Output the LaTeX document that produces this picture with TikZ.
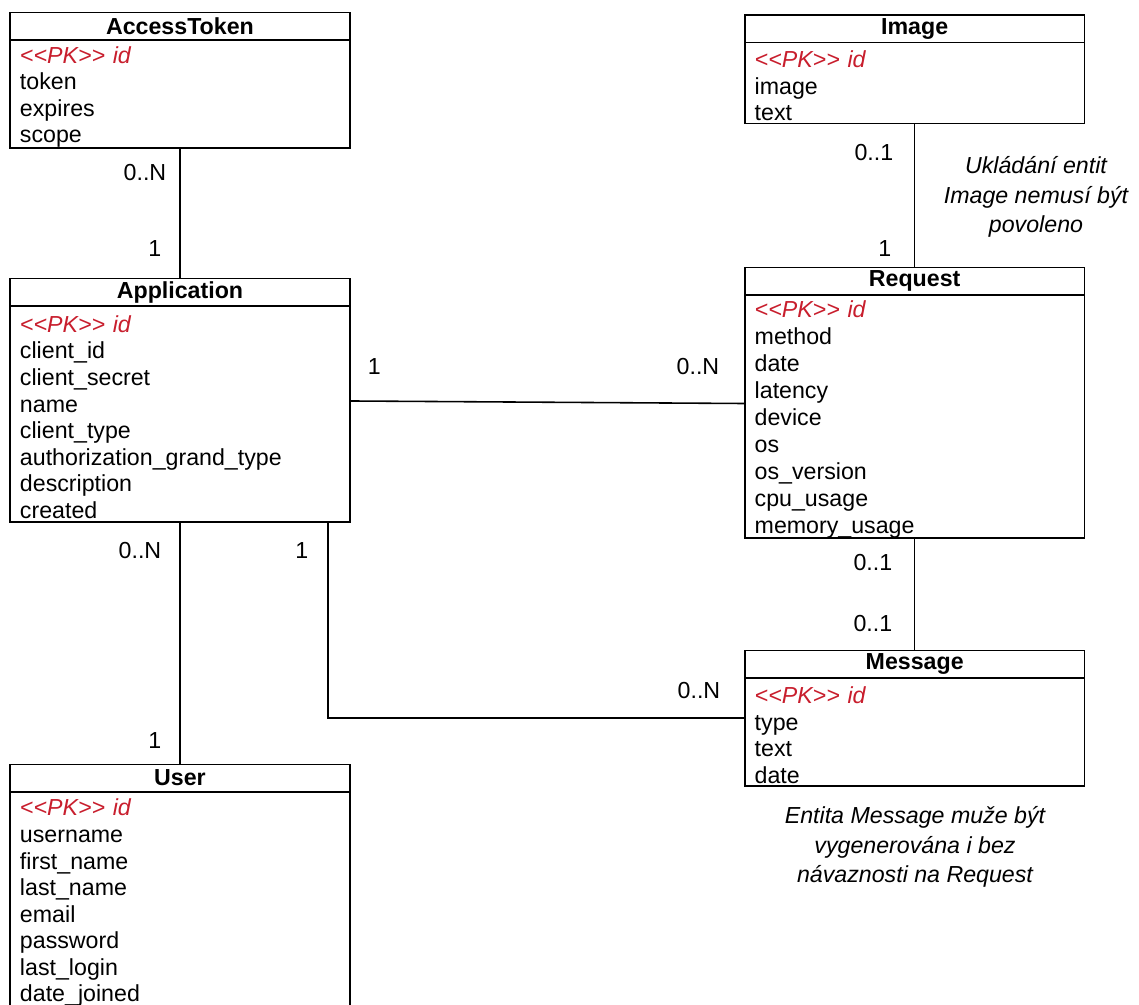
\documentclass[tikz,border=0pt]{standalone}
\usepackage{fontspec}
\setmainfont{Liberation Sans}
\usepackage{xcolor}
\usetikzlibrary{positioning}
\definecolor{pkred}{RGB}{200,30,45}
\newcommand{\pk}{\rule{0pt}{13pt}\textcolor{pkred}{\itshape <\kern0pt<PK>\kern0pt> id}}

\begin{document}
\begin{tikzpicture}[x=0.02cm, y=-0.02cm, line width=0.9pt,
every node/.style={font=\fontsize{13.2}{15.35}\selectfont},
entity/.style={draw, minimum width=6.8cm, minimum height=0.55cm, inner sep=0pt, outer sep=0pt, anchor=north west, font=\fontsize{13.2}{15.35}\selectfont\bfseries},
attrs/.style={draw, text width=6.4cm, inner xsep=0.2cm, inner ysep=0pt, outer sep=0pt, align=left, minimum height=#1*0.54cm, font=\fontsize{13.2}{15.1}\selectfont},
wide rows/.style={font=\fontsize{13.2}{15.35}\selectfont},
mult/.style={inner sep=0pt},
note/.style={align=center, inner sep=0pt, font=\fontsize{13.2}{16.9}\selectfont\itshape}]
\useasboundingbox (0,0) rectangle (1139,1004);
% left column
\node[entity] (at-head) at (10,12.7) {AccessToken};
\node[attrs=4, below=0pt of at-head] (at) {\pk\\token\\expires\\scope};
\node[entity] (app-head) at (10,278.5) {Application};
\node[attrs=8, below=0pt of app-head] (app) {\pk\\client\_id\\client\_secret\\name\\client\_type\\authorization\_grand\_type\\description\\created};
\node[entity] (user-head) at (10,764.3) {User};
\node[attrs=8, below=0pt of user-head] (user) {\pk\\username\\first\_name\\last\_name\\email\\password\\last\_login\\date\_joined};
% right column
\node[entity] (img-head) at (744.7,15) {Image};
\node[attrs=3, below=0pt of img-head] (img) {\pk\\image\\text};
\node[entity] (req-head) at (744.7,267.3) {Request};
\node[attrs=9, wide rows, below=0pt of req-head] (req) {\pk\\method\\date\\latency\\device\\os\\os\_version\\cpu\_usage\\memory\_usage};
\node[entity] (msg-head) at (744.7,650.7) {Message};
\node[attrs=4, below=0pt of msg-head] (msg) {\pk\\type\\text\\date};
% relations
\draw (at) -- (app-head);
\draw (img) -- (req-head);
\draw (req) -- (msg-head);
\draw (app) -- (user-head);
\draw ([yshift=0.26cm]app.east) -- ([yshift=0.26cm]req.west);
\coordinate (bend) at (328,718);
\draw (app.south -| bend) -- (bend) -- (bend -| msg.west);
% multiplicities
\node[mult, anchor=east] (at-n) at (167,173) {0..N};
\node[mult, anchor=east] (app-1a) at (162,249) {1};
\node[mult, anchor=east] (img-01) at (894,153) {0..1};
\node[mult, anchor=east] (req-1) at (892,249) {1};
\node[mult, anchor=west] (app-1b) at (367,367) {1};
\node[mult, anchor=east] (req-n) at (720,367) {0..N};
\node[mult, anchor=east] (req-01) at (893,563) {0..1};
\node[mult, anchor=east] (msg-01) at (893,624) {0..1};
\node[mult, anchor=east] (app-n) at (162,551) {0..N};
\node[mult, anchor=east] (user-1) at (162,741) {1};
\node[mult, anchor=east] (app-1c) at (309,551) {1};
\node[mult, anchor=east] (msg-n) at (721,691) {0..N};
% notes
\node[note] (img-note) at (1036,197) {Ukládání entit\\Image nemusí být\\povoleno};
\node[note] (msg-note) at (915,847) {Entita Message muže být\\vygenerována i bez\\návaznosti na Request};
\end{tikzpicture}
\end{document}
